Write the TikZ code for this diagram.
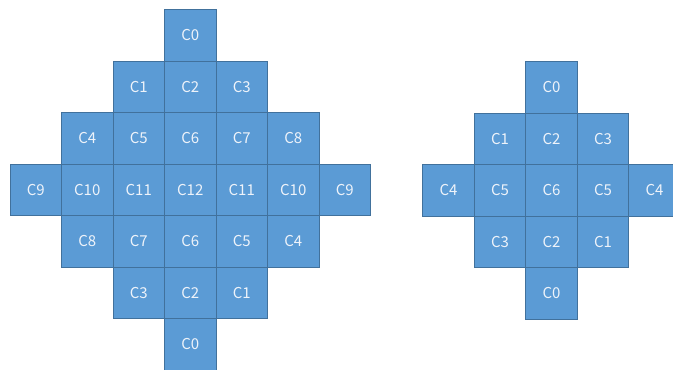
\documentclass[tikz,border=0pt]{standalone}
\usepackage{fontspec}
\setmainfont{Noto Sans CJK JP}
\definecolor{cellfill}{HTML}{5B9BD5}
\definecolor{cellline}{HTML}{41719C}
\definecolor{celltext}{HTML}{EEF3FA}
\begin{document}
\begin{tikzpicture}[x=1pt,y=-1pt,
  cell/.style={draw=cellline, fill=cellfill, line width=0.9pt,
    minimum width=51.5pt, minimum height=51.5pt, inner sep=0pt,
    text=celltext, font=\fontsize{15}{15}\selectfont}]
\useasboundingbox (0,0) rectangle (673,370);
% left diamond
\foreach \r/\c/\t in {0/3/C0,
  1/2/C1, 1/3/C2, 1/4/C3,
  2/1/C4, 2/2/C5, 2/3/C6, 2/4/C7, 2/5/C8,
  3/0/C9, 3/1/C10, 3/2/C11, 3/3/C12, 3/4/C11, 3/5/C10, 3/6/C9,
  4/1/C8, 4/2/C7, 4/3/C6, 4/4/C5, 4/5/C4,
  5/2/C3, 5/3/C2, 5/4/C1,
  6/3/C0}
  \node[cell] (L\r-\c) at ({10+(\c+0.5)*51.5},{9.7+(\r+0.5)*51.5}) {\t};
% right diamond
\foreach \r/\c/\t in {0/2/C0,
  1/1/C1, 1/2/C2, 1/3/C3,
  2/0/C4, 2/1/C5, 2/2/C6, 2/3/C5, 2/4/C4,
  3/1/C3, 3/2/C2, 3/3/C1,
  4/2/C0}
  \node[cell] (R\r-\c) at ({422.7+(\c+0.5)*51.5},{61.5+(\r+0.5)*51.5}) {\t};
\end{tikzpicture}
\end{document}
